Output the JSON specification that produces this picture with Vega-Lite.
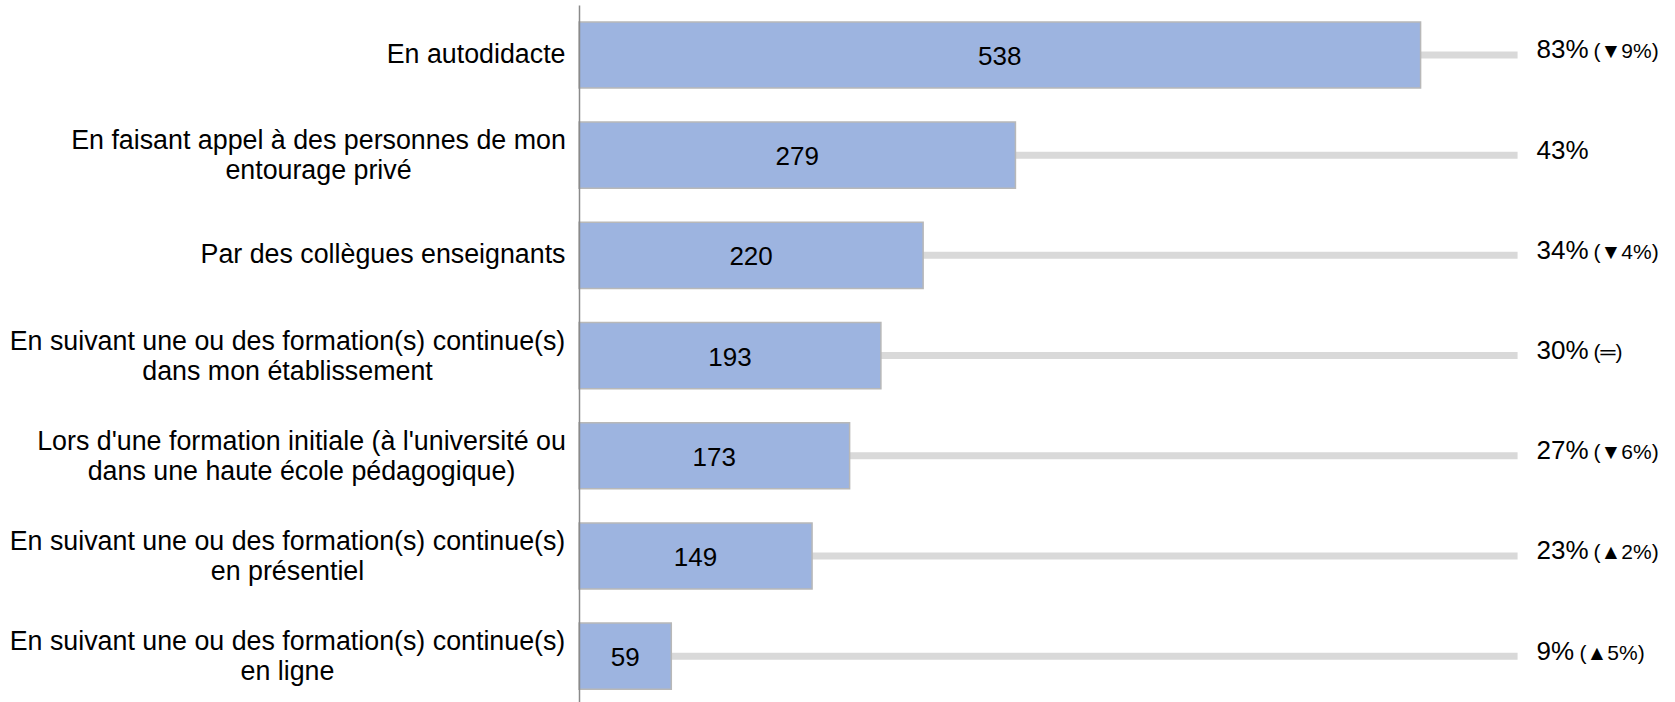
{
  "$schema": "https://vega.github.io/schema/vega-lite/v6.json",
  "autosize": {"type": "none"},
  "padding": {"left": 579, "top": 5, "right": 0, "bottom": 0},
  "width": 1095,
  "height": 697,
  "background": "white",
  "config": {"view": {"stroke": null}, "font": "Liberation Sans"},
  "data": {
    "values": [
      {"label": "En autodidacte", "n": 538, "pct": 0.83, "change": "(▼9%)"},
      {"label": "En faisant appel à des personnes de mon|entourage privé", "n": 279, "pct": 0.43, "change": null},
      {"label": "Par des collègues enseignants", "n": 220, "pct": 0.34, "change": "(▼4%)"},
      {"label": "En suivant une ou des formation(s) continue(s)|dans mon établissement", "n": 193, "pct": 0.30, "change": "(═)"},
      {"label": "Lors d'une formation initiale (à l'université ou|dans une haute école pédagogique)", "n": 173, "pct": 0.27, "change": "(▼6%)"},
      {"label": "En suivant une ou des formation(s) continue(s)|en présentiel", "n": 149, "pct": 0.23, "change": "(▲2%)"},
      {"label": "En suivant une ou des formation(s) continue(s)|en ligne", "n": 59, "pct": 0.09, "change": "(▲5%)"}
    ]
  },
  "encoding": {
    "y": {
      "field": "label",
      "type": "nominal",
      "sort": null,
      "scale": {"paddingInner": 0.34, "paddingOuter": 0.148, "align": 0.57},
      "axis": {
        "title": null,
        "ticks": false,
        "domainColor": "#8a8a8a",
        "domainWidth": 1.5,
        "labelFont": "Liberation Sans",
        "labelFontSize": 26.8,
        "labelColor": "#000000",
        "labelLimit": 700,
        "labelLineHeight": 30,
        "labelExpr": "split(datum.value, '|')",
        "labelAlign": {"condition": {"test": "indexof(datum.value, '|') >= 0", "value": "center"}, "value": "right"},
        "labelOffset": {"condition": {"test": "indexof(datum.value, '|') >= 0", "value": -14}, "value": 0},
        "labelPadding": {
          "condition": [
            {"test": "indexof(datum.value, 'Lors') == 0", "value": 278},
            {"test": "indexof(datum.value, 'En faisant') == 0", "value": 261},
            {"test": "indexof(datum.value, '|') >= 0", "value": 292}
          ],
          "value": 14
        },
        "zindex": 1
      }
    }
  },
  "layer": [
    {
      "mark": {"type": "bar", "height": 7, "color": "#d9d9d9"},
      "encoding": {
        "x": {"datum": 0, "type": "quantitative", "scale": {"domain": [0, 700], "nice": false}, "axis": null},
        "x2": {"datum": 600}
      }
    },
    {
      "mark": {"type": "bar", "color": "#9db4e0", "stroke": "#b8b8b8", "strokeWidth": 1.5},
      "encoding": {
        "x": {"field": "n", "type": "quantitative", "scale": {"domain": [0, 700], "nice": false}, "axis": null}
      }
    },
    {
      "transform": [{"calculate": "datum.n / 2", "as": "mid"}],
      "mark": {"type": "text", "fontSize": 26, "baseline": "alphabetic", "dy": 10, "align": "center", "color": "#000000"},
      "encoding": {
        "x": {"field": "mid", "type": "quantitative"},
        "text": {"field": "n", "type": "quantitative"}
      }
    },
    {
      "mark": {"type": "text", "fontSize": 26, "baseline": "alphabetic", "dy": 3.5, "dx": 19, "align": "left", "color": "#000000"},
      "encoding": {
        "x": {"datum": 600, "type": "quantitative"},
        "text": {"field": "pct", "type": "quantitative", "format": ".0%"}
      }
    },
    {
      "transform": [{"filter": "datum.change != null && datum.pct >= 0.1"}],
      "mark": {"type": "text", "fontSize": 21, "baseline": "alphabetic", "dy": 3.5, "dx": 76, "align": "left", "color": "#000000"},
      "encoding": {
        "x": {"datum": 600, "type": "quantitative"},
        "text": {"field": "change", "type": "nominal"}
      }
    },
    {
      "transform": [{"filter": "datum.change != null && datum.pct < 0.1"}],
      "mark": {"type": "text", "fontSize": 21, "baseline": "alphabetic", "dy": 3.5, "dx": 62, "align": "left", "color": "#000000"},
      "encoding": {
        "x": {"datum": 600, "type": "quantitative"},
        "text": {"field": "change", "type": "nominal"}
      }
    }
  ]
}
